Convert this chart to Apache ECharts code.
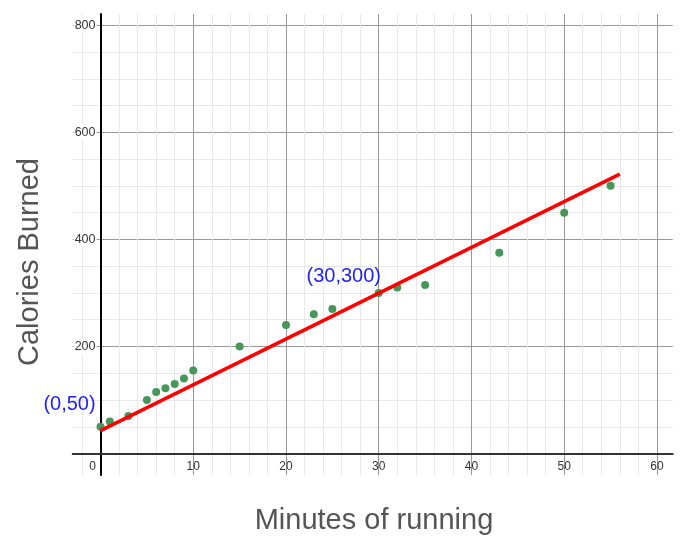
<!DOCTYPE html>
<html>
<head>
<meta charset="utf-8">
<script src="https://cdn.jsdelivr.net/npm/echarts@6/dist/echarts.min.js"></script>
<style>html,body{margin:0;padding:0;background:#fff;}#c{width:687px;height:544px;}</style>
</head>
<body>
<div id="c"></div>
<script>
// Data
const minutes  = [0, 1, 3, 5, 6, 7, 8, 9, 10, 15, 20, 23, 25, 30, 32, 35, 43, 50, 55];
const calories = [50, 60, 70, 100, 115, 122, 130, 140, 155, 200, 240, 260, 270, 300, 310, 315, 375, 450, 500];
const fitX = [0, 56];
const fitY = [43, 522];
const annotations = [
  { x: 0, y: 50, text: '(0,50)' },
  { x: 30, y: 300, text: '(30,300)' }
];
const xTitle = 'Minutes of running';
const yTitle = 'Calories Burned';

const FONT = "'Liberation Sans', Arial, sans-serif";
const MINOR = '#e8e8e8', MAJOR = '#999999', NONE = 'rgba(0,0,0,0)';
const annOffsets = [[-31, -22], [-35, -16]];

const points = minutes.map((m, i) => {
  const item = { value: [m, calories[i]] };
  annotations.forEach((a, k) => {
    if (a.x === m && a.y === calories[i]) {
      item.label = {
        show: true, formatter: a.text, position: 'inside', offset: annOffsets[k],
        color: '#1f1fff', fontSize: 20, fontFamily: FONT
      };
    }
  });
  return item;
});

const chart = echarts.init(document.getElementById('c'), null, { renderer: 'canvas' });
chart.setOption({
  animation: false,
  backgroundColor: '#fff',
  grid: { left: 72.7, right: 14.3, top: 14, bottom: 69, containLabel: false },
  xAxis: {
    type: 'value', min: -3, max: 61.7, interval: 1, offset: -21,
    axisLine: { show: true, onZero: false, lineStyle: { color: '#333', width: 2 } },
    axisTick: { show: false },
    axisLabel: {
      color: '#333', fontSize: 12, fontFamily: FONT, margin: 7, showMaxLabel: false,
      formatter: v => v === 0 ? '{z|0}' : ((v > 0 && Math.abs(v % 10) < 1e-9) ? String(v) : ''),
      rich: { z: { color: '#333', fontSize: 12, fontFamily: FONT, padding: [0, 16, 0, 0] } }
    },
    splitLine: {
      show: true, showMaxLine: false,
      lineStyle: { width: 1, color: [NONE, MINOR, NONE, MAJOR, NONE, MINOR, NONE, MINOR, NONE, MINOR] }
    }
  },
  yAxis: {
    type: 'value', min: -40, max: 821, interval: 10, offset: -27.8,
    axisLine: { show: true, onZero: false, lineStyle: { color: '#000', width: 2 } },
    axisTick: { show: false },
    axisLabel: {
      fontSize: 12, fontFamily: FONT, margin: 4, showMaxLabel: false,
      formatter: v => (v > 0 && Math.abs(v % 200) < 1e-9) ? '{b|' + v + '}' : '',
      rich: { b: { color: '#333', fontSize: 12.5, fontFamily: FONT, backgroundColor: '#fff', padding: [1, 1, 1, 1] } }
    },
    splitLine: {
      show: true, showMaxLine: false,
      lineStyle: { width: 1, color: [NONE, NONE, NONE, NONE, MAJOR, NONE, NONE, NONE, NONE, MINOR,
                                      NONE, NONE, NONE, NONE, MINOR, NONE, NONE, NONE, NONE, MINOR] }
    }
  },
  series: [
    {
      type: 'scatter', data: points, symbolSize: 8, z: 3,
      itemStyle: { color: '#47965a', opacity: 1 }
    },
    {
      type: 'line', data: fitX.map((x, i) => [x, fitY[i]]), showSymbol: false, z: 4,
      lineStyle: { color: '#ff0000', width: 3.5 }, silent: true
    }
  ],
  graphic: [
    { type: 'text', x: 374, y: 521, style: { text: xTitle, fill: '#555', font: '29px ' + FONT, textAlign: 'center', textVerticalAlign: 'middle' } },
    { type: 'text', x: 30, y: 262, rotation: Math.PI / 2, style: { text: yTitle, fill: '#555', font: '29px ' + FONT, textAlign: 'center', textVerticalAlign: 'middle' } }
  ]
});
</script>
</body>
</html>
